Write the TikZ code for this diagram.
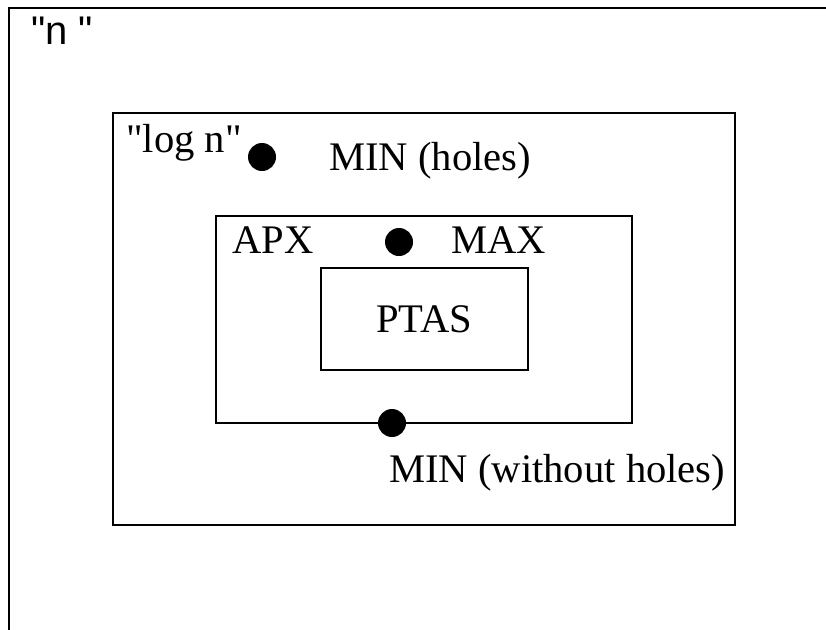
\documentclass[tikz,border=0pt]{standalone}
\usepackage{fontspec}
\newfontfamily\timesfont{Liberation Serif}
\newfontfamily\arialfont{Liberation Sans}
\begin{document}
\begin{tikzpicture}[x=1pt,y=-1pt,
  box/.style={draw,line width=2pt},
  lbl/.style={inner sep=0pt,anchor=base west,font=\timesfont\fontsize{40.6}{40.6}\selectfont},
  dot/.style={circle,fill=black,inner sep=0pt,minimum size=28pt}]
\useasboundingbox (0,0) rectangle (826,629);
\begin{scope}
\clip (0,0) rectangle (826,629);
\draw[box] (9,640) -- (9,8) -- (840,8);
\end{scope}
\node[lbl,font=\arialfont\fontsize{40}{40}\selectfont] (n) at (31,44) {"n "};
\draw[box] (113,113) rectangle (735,525);
\node[lbl] (logn) at (126,152) {"log n"};
\node[dot] (d1) at (262,157) {};
\node[lbl] (minh) at (329,170) {MIN (holes)};
\draw[box] (216,216) rectangle (632,423);
\node[lbl] (apx) at (232,253) {APX};
\node[dot] (d2) at (399,242) {};
\node[lbl] (max) at (451,253) {MAX};
\draw[box] (321,268) rectangle (528,370);
\node[lbl] (ptas) at (376,332) {PTAS};
\node[dot] (d3) at (392,423) {};
\node[lbl] (minw) at (389,482) {MIN (without holes)};
\end{tikzpicture}
\end{document}
